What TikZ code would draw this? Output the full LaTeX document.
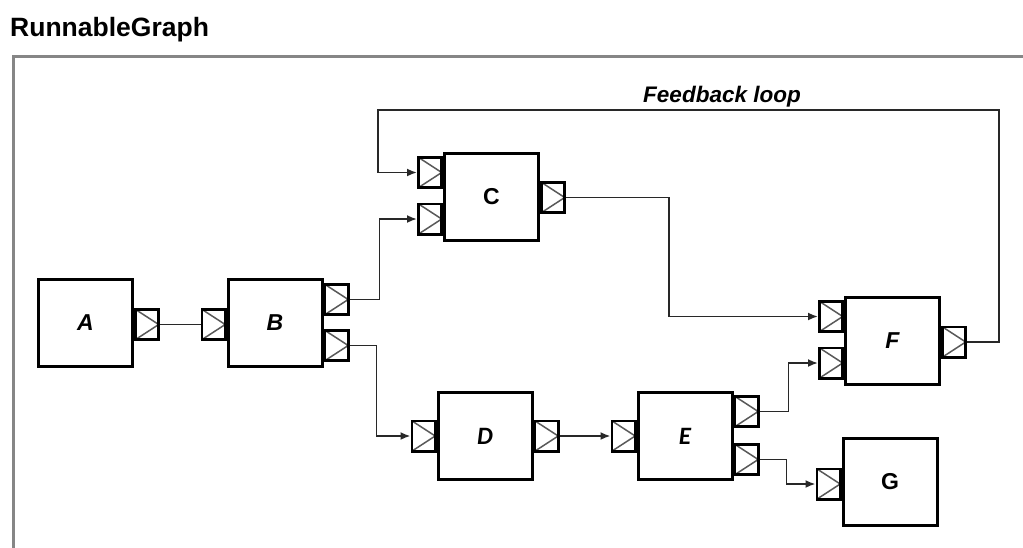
\documentclass[tikz,border=0pt]{standalone}
\usepackage{fontspec}
\setmainfont{Liberation Sans}
\newfontfamily\calfont{Carlito}
\usetikzlibrary{arrows.meta}

\definecolor{framegray}{RGB}{134,134,134}
\definecolor{wiregray}{RGB}{40,40,40}

\tikzset{
  block/.style={draw,line width=3pt,fill=white,minimum width=94pt,minimum height=87pt,
    inner sep=0pt,font=\fontsize{23}{27}\selectfont\bfseries\itshape},
  port/.style={draw,line width=2.6pt,fill=white,minimum width=23.4pt,minimum height=30.4pt,inner sep=0pt,
    path picture={\draw[line width=1.5pt,black!65] (path picture bounding box.north west)
      -- (path picture bounding box.east) -- (path picture bounding box.south west);}},
  wire/.style={wiregray,line width=1.8pt},
}

\begin{document}
\begin{tikzpicture}[>={Latex[length=10pt,width=8pt]},x=1pt,y=-1pt]

\useasboundingbox (0,0) rectangle (1023,547);

\draw[color=framegray,line width=3pt] (13,550)--(13,56)--(1026,56);

\node[anchor=base west,inner sep=0pt,font=\fontsize{26.5}{31}\selectfont\bfseries] (title) at (10,36) {RunnableGraph};

% blocks
\node[block] (A) at (85.5,322.5) {A};
\node[block] (B) at (275,322.5) {B};
\node[block,font=\fontsize{23}{27}\selectfont\bfseries] (C) at (491.5,196.5) {C};
\node[block,font=\fontsize{25}{29}\selectfont\calfont\bfseries\itshape] (D) at (485,436) {D};
\node[block,font=\fontsize{25}{29}\selectfont\calfont\bfseries\itshape] (E) at (685,436) {E};
\node[block] (F) at (892.5,340.5) {F};
\node[block,font=\fontsize{23}{27}\selectfont\bfseries] (G) at (890,482) {G};

% ports
\node[port,anchor=west] (A-o) at ([yshift=-2pt]A.east) {};
\node[port,anchor=east] (B-i) at ([yshift=-2pt]B.west) {};
\node[port,anchor=west] (B-o1) at ([yshift=23pt]B.east) {};
\node[port,anchor=west] (B-o2) at ([yshift=-23pt]B.east) {};
\node[port,anchor=east] (C-i1) at ([yshift=24pt]C.west) {};
\node[port,anchor=east] (C-i2) at ([yshift=-22.5pt]C.west) {};
\node[port,anchor=west] (C-o) at ([yshift=-1pt]C.east) {};
\node[port,anchor=east] (D-i) at (D.west) {};
\node[port,anchor=west] (D-o) at (D.east) {};
\node[port,anchor=east] (E-i) at (E.west) {};
\node[port,anchor=west] (E-o1) at ([yshift=24.5pt]E.east) {};
\node[port,anchor=west] (E-o2) at ([yshift=-23.5pt]E.east) {};
\node[port,anchor=east] (F-i1) at ([yshift=24pt]F.west) {};
\node[port,anchor=east] (F-i2) at ([yshift=-22.5pt]F.west) {};
\node[port,anchor=west] (F-o) at ([yshift=-1.5pt]F.east) {};
\node[port,anchor=east] (G-i) at ([yshift=-2pt]G.west) {};

% wires
\draw[wire] (A-o.east)--(B-i.west);
\draw[wire,->] (B-o1.east)--++(30,0) |- (C-i2.west);
\draw[wire,->] (B-o2.east)--++(27,0) |- (D-i.west);
\draw[wire,->] (C-o.east)--++(103,0) |- (F-i1.west);
\draw[wire,->] (D-o.east)--(E-i.west);
\draw[wire,->] (E-o1.east)--++(29,0) |- (F-i2.west);
\draw[wire,->] (E-o2.east)--++(27,0) |- (G-i.west);

% feedback
\coordinate (loopR) at (999,110);
\coordinate (loopL) at (378,110);
\draw[wire,->] (F-o.east) -| (loopR)--(loopL) |- (C-i1.west);
\node[anchor=base,inner sep=0pt,font=\fontsize{22.5}{26}\selectfont\bfseries\itshape] (loop) at (722,102) {Feedback loop};

\end{tikzpicture}
\end{document}
